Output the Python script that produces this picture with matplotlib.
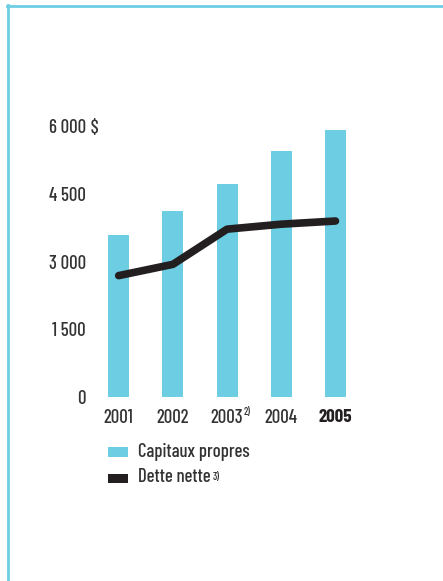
import matplotlib
matplotlib.use("Agg")
import matplotlib.pyplot as plt
from matplotlib.lines import Line2D
from matplotlib.patches import Rectangle
from matplotlib import font_manager

years = ["2001", "2002", "2003", "2004", "2005"]
capitaux = [3590, 4120, 4720, 5450, 5920]
dette = [2690, 2940, 3720, 3830, 3900]
ytick_vals = [0, 1500, 3000, 4500, 6000]
ytick_labels = ["0", "1 500", "3 000", "4 500", "6 000"]

CYAN = "#6dcde3"
DARK = "#231f20"
TXT = "#333333"
W, H = 443, 581

names = {f.name for f in font_manager.fontManager.ttflist}
FONT = "DejaVu Sans"
for cand in ["Barlow Condensed", "Roboto Condensed", "Sofia Sans Condensed"]:
    if cand in names:
        FONT = cand
        break
plt.rcParams["font.family"] = [FONT, "DejaVu Sans"]
plt.rcParams["font.weight"] = 500
FS = 13.5
SFS = 7.5

fig = plt.figure(figsize=(W / 100, H / 100), dpi=100)

def fx(px):
    return px / W

def fy(py):
    return 1 - py / H

ax = fig.add_axes([fx(91.6), fy(397), (362.6 - 91.6) / W, (397 - 103.7) / H])
x = list(range(len(years)))
ax.bar(x, capitaux, width=0.39, color=CYAN, zorder=1)
ax.plot(x, dette, color=DARK, lw=5.5, solid_capstyle="round", solid_joinstyle="round", zorder=2)
ax.set_xlim(-0.5, 4.5)
ax.set_ylim(0, 6500)
for s in ax.spines.values():
    s.set_visible(False)
ax.set_yticks(ytick_vals)
ax.set_yticklabels(ytick_labels)
ax.tick_params(axis="y", length=0, pad=4, labelsize=FS, labelcolor=TXT)
ax.set_xticks([])

ax.annotate(" $", xy=(0, 6000), xycoords=("axes fraction", "data"),
            xytext=(-3.5, 0), textcoords="offset points",
            ha="left", va="center_baseline", fontsize=FS, color=TXT)

xl = []
for i, yr in enumerate(years):
    a = ax.annotate(yr, xy=(i, 0), xycoords="data", xytext=(0, -8.5), textcoords="offset points",
                    ha="center", va="top", fontsize=FS, color=DARK if yr == "2005" else TXT,
                    fontweight="bold" if yr == "2005" else 500)
    xl.append(a)

fig.patches.append(Rectangle((fx(108), fy(457)), 20 / W, 10 / H, transform=fig.transFigure,
                             facecolor=CYAN, edgecolor="none"))
fig.patches.append(Rectangle((fx(108), fy(483)), 20 / W, 9 / H, transform=fig.transFigure,
                             facecolor=DARK, edgecolor="none"))
fig.text(fx(138), fy(452), "Capitaux propres", ha="left", va="center", fontsize=FS, color=TXT)
t = fig.text(fx(138), fy(477), "Dette nette", ha="left", va="center", fontsize=FS, color=TXT)

fig.canvas.draw()
bb = t.get_window_extent()
fig.text((bb.x1 + 2.5) / W, fy(477), "3)", ha="left", va="center", fontsize=SFS, color=TXT)
b3 = xl[2].get_window_extent()
fig.text((b3.x1 + 0.5) / W, fy(411.5), "2)", ha="left", va="center", fontsize=SFS, color=TXT)

fig.add_artist(Line2D([fx(7), 1], [fy(6), fy(6)], transform=fig.transFigure, color=CYAN, lw=2))
fig.add_artist(Line2D([fx(8), fx(8)], [fy(5), 0], transform=fig.transFigure, color=CYAN, lw=2))

fig.savefig("out.png", dpi=100)
